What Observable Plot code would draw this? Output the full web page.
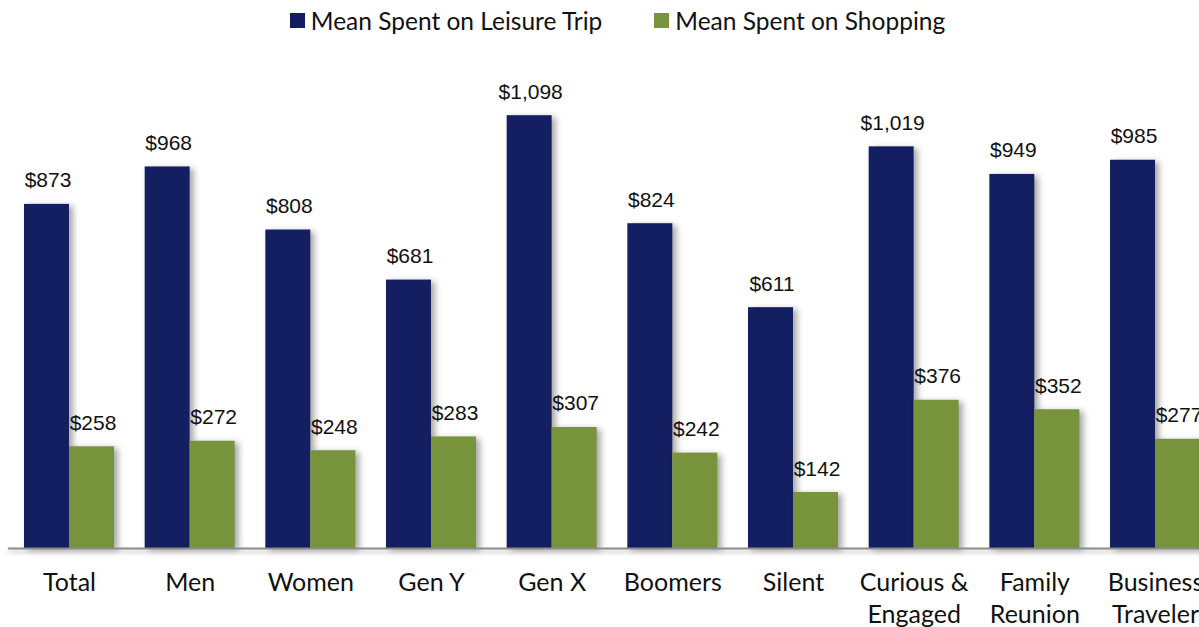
<!DOCTYPE html>
<html>
<head>
<meta charset="utf-8">
<script src="https://cdn.jsdelivr.net/npm/d3@7"></script>
<script src="https://cdn.jsdelivr.net/npm/@observablehq/plot@0.6"></script>
<style>
  html, body { margin: 0; padding: 0; background: #fff; width: 1199px; height: 627px; overflow: hidden; }
  #wrap { position: relative; width: 1199px; height: 627px; overflow: hidden; }
  #legend { position: absolute; top: 6px; left: 0; width: 1235px; display: flex; justify-content: center; gap: 52px;
            font-family: Lato, "Open Sans", sans-serif; font-size: 24.5px; color: #111; }
  #legend .item { display: flex; align-items: center; }
  #legend .sw { width: 15px; height: 15px; margin-right: 6px; }
  #chart { position: absolute; top: 0; left: 0; }
  #chart svg { max-width: none !important; }
</style>
</head>
<body>
<div id="wrap">
  <div id="chart"></div>
  <div id="legend"></div>
</div>
<script>
const categories = ["Total", "Men", "Women", "Gen Y", "Gen X", "Boomers", "Silent", "Curious & Engaged", "Family Reunion", "Business Traveler"];
const tickLabels = ["Total", "Men", "Women", "Gen Y", "Gen X", "Boomers", "Silent", "Curious &\nEngaged", "Family\nReunion", "Business\nTraveler"];
const seriesNames = ["Mean Spent on Leisure Trip", "Mean Spent on Shopping"];
const leisure = [873, 968, 808, 681, 1098, 824, 611, 1019, 949, 985];
const shopping = [258, 272, 248, 283, 307, 242, 142, 376, 352, 277];
const colors = ["#131f60", "#77933c"];

const fmt = v => "$" + d3.format(",")(v);
const leisureData = categories.map((c, i) => ({category: c, value: leisure[i]}));
const shoppingData = categories.map((c, i) => ({category: c, value: shopping[i]}));
const labelOf = new Map(categories.map((c, i) => [c, tickLabels[i]]));

const W = 1240, H = 627;
const half = 45;

const plot = Plot.plot({
  width: W,
  height: H,
  marginLeft: 8,
  marginRight: 24,
  marginTop: 75,
  marginBottom: 79,
  style: {background: "transparent", overflow: "visible", maxWidth: "none"},
  x: {domain: categories, paddingInner: 0.2544, paddingOuter: 0.1326, round: false, label: null},
  y: {domain: [0, 1200], axis: null},
  marks: [
    Plot.barY(leisureData, {x: "category", y: "value", fill: colors[0], insetRight: half}),
    Plot.barY(shoppingData, {x: "category", y: "value", fill: colors[1], insetLeft: half}),
    Plot.ruleY([0], {stroke: "#8c8c8c", strokeWidth: 2}),
    Plot.text(leisureData, {x: "category", y: "value", text: d => fmt(d.value), dx: -half / 2 + 1, dy: -17, lineAnchor: "bottom",
      fontFamily: "Liberation Sans, Arial, sans-serif", fontSize: 21, fill: "#111"}),
    Plot.text(shoppingData, {x: "category", y: "value", text: d => fmt(d.value), dx: half / 2 + 1, dy: -17, lineAnchor: "bottom",
      fontFamily: "Liberation Sans, Arial, sans-serif", fontSize: 21, fill: "#111"}),
    Plot.axisX({tickSize: 0, tickPadding: 20, tickFormat: c => labelOf.get(c), fontSize: 25, lineHeight: 1.28,
      fontFamily: "Lato, sans-serif", fill: "#111", label: null})
  ]
});

d3.select(plot).selectAll("g[aria-label='bar']").style("filter", "drop-shadow(4px 2px 3px rgba(0,0,0,0.35))");
d3.select(plot).selectAll("g[aria-label='rule']").style("filter", "drop-shadow(0px 3px 2px rgba(0,0,0,0.25))");
d3.select(plot).selectAll("g[aria-label='x-axis tick label']").attr("font-family", "Lato, sans-serif").attr("font-size", 25);
document.getElementById("chart").appendChild(plot);

const legend = d3.select("#legend");
seriesNames.forEach((name, i) => {
  const item = legend.append("div").attr("class", "item");
  item.append("div").attr("class", "sw").style("background", colors[i]);
  item.append("span").text(name);
});
</script>
</body>
</html>
